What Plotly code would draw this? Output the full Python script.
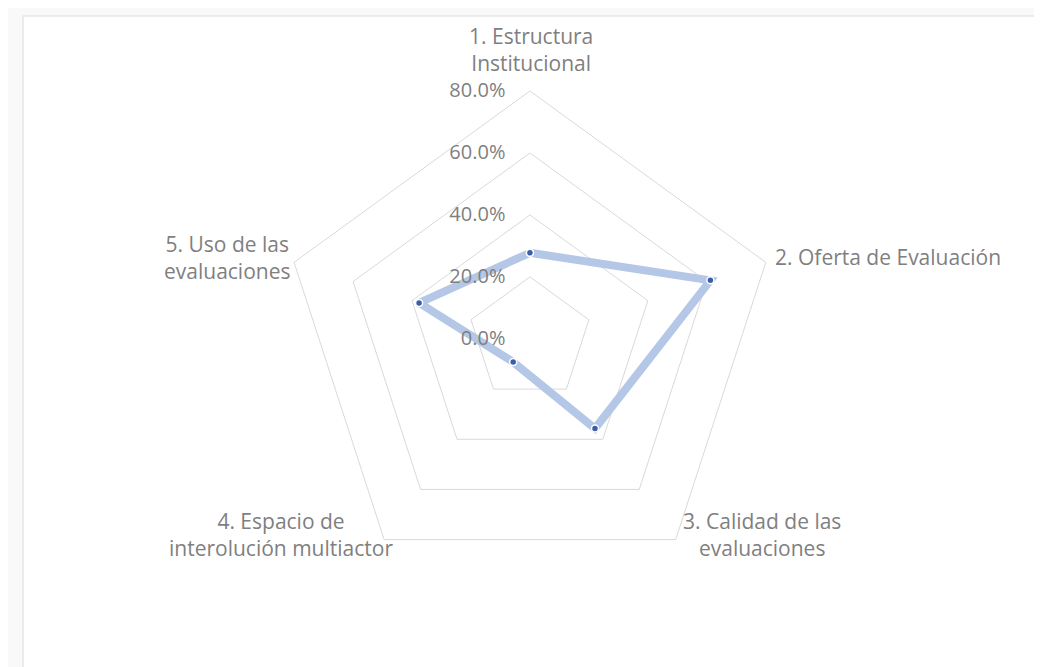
import plotly.graph_objects as go

categories = [
    "1. Estructura<br>Institucional",
    "2. Oferta de Evaluación",
    "3. Calidad de las<br>evaluaciones",
    "4. Espacio de<br>interolución multiactor",
    "5. Uso de las<br>evaluaciones",
]
values = [27.8, 61.2, 35.7, 9.2, 37.6]
radial_ticks = [0, 20, 40, 60, 80]
radial_tick_labels = ["0.0%", "20.0%", "40.0%", "60.0%", "80.0%"]

GRID = "#d9d9d9"
TEXT = "#7f7f7f"
FONT = "Open Sans"
W, H = 1042, 667

# where each category label sits (pixels from top-left) and how it is anchored
label_places = [
    (523, 41, "center"),
    (765, 249, "left"),
    (673, 526, "left"),
    (387, 526, "right"),
    (284, 250, "right"),
]

fig = go.Figure()
fig.add_scatterpolar(
    r=values + values[:1],
    theta=categories + categories[:1],
    mode="lines+markers",
    line={"color": "#b4c7e7", "width": 8},
    marker={"color": "#3c5da8", "size": 7, "line": {"color": "white", "width": 1.5}},
    showlegend=False,
    hoverinfo="skip",
)

for text, (px, py, anchor) in zip(categories, label_places):
    fig.add_annotation(
        x=px / W,
        y=1 - py / H,
        xref="paper",
        yref="paper",
        text=text,
        showarrow=False,
        xanchor=anchor,
        yanchor="middle",
        align="center",
        font={"family": FONT, "size": 21, "color": TEXT},
    )

fig.update_layout(
    width=W,
    height=H,
    margin={"l": 0, "r": 0, "t": 0, "b": 0},
    paper_bgcolor="#f9f9f9",
    font={"family": FONT, "size": 20, "color": TEXT},
    polar={
        "domain": {"x": [0.2629, 0.7389], "y": [0.132, 0.8756]},
        "bgcolor": "rgba(0,0,0,0)",
        "gridshape": "linear",
        "radialaxis": {
            "range": [0, 80],
            "tickvals": radial_ticks,
            "ticktext": radial_tick_labels,
            "angle": 90,
            "tickangle": 90,
            "side": "counterclockwise",
            "showline": False,
            "ticks": "outside",
            "ticklen": 17,
            "tickcolor": "rgba(0,0,0,0)",
            "gridcolor": GRID,
            "gridwidth": 1,
            "tickfont": {"size": 20, "color": TEXT},
        },
        "angularaxis": {
            "rotation": 90,
            "direction": "clockwise",
            "showgrid": False,
            "showline": True,
            "showticklabels": False,
            "linecolor": GRID,
            "linewidth": 1,
            "ticks": "",
        },
    },
    shapes=[
        {
            "type": "rect",
            "xref": "paper",
            "yref": "paper",
            "x0": 15 / W,
            "x1": 1.01,
            "y0": -0.01,
            "y1": 1 - 8 / H,
            "fillcolor": "white",
            "line": {"color": "#e6e6e6", "width": 1.5},
            "layer": "below",
        }
    ],
)

fig.write_html("out.html")
